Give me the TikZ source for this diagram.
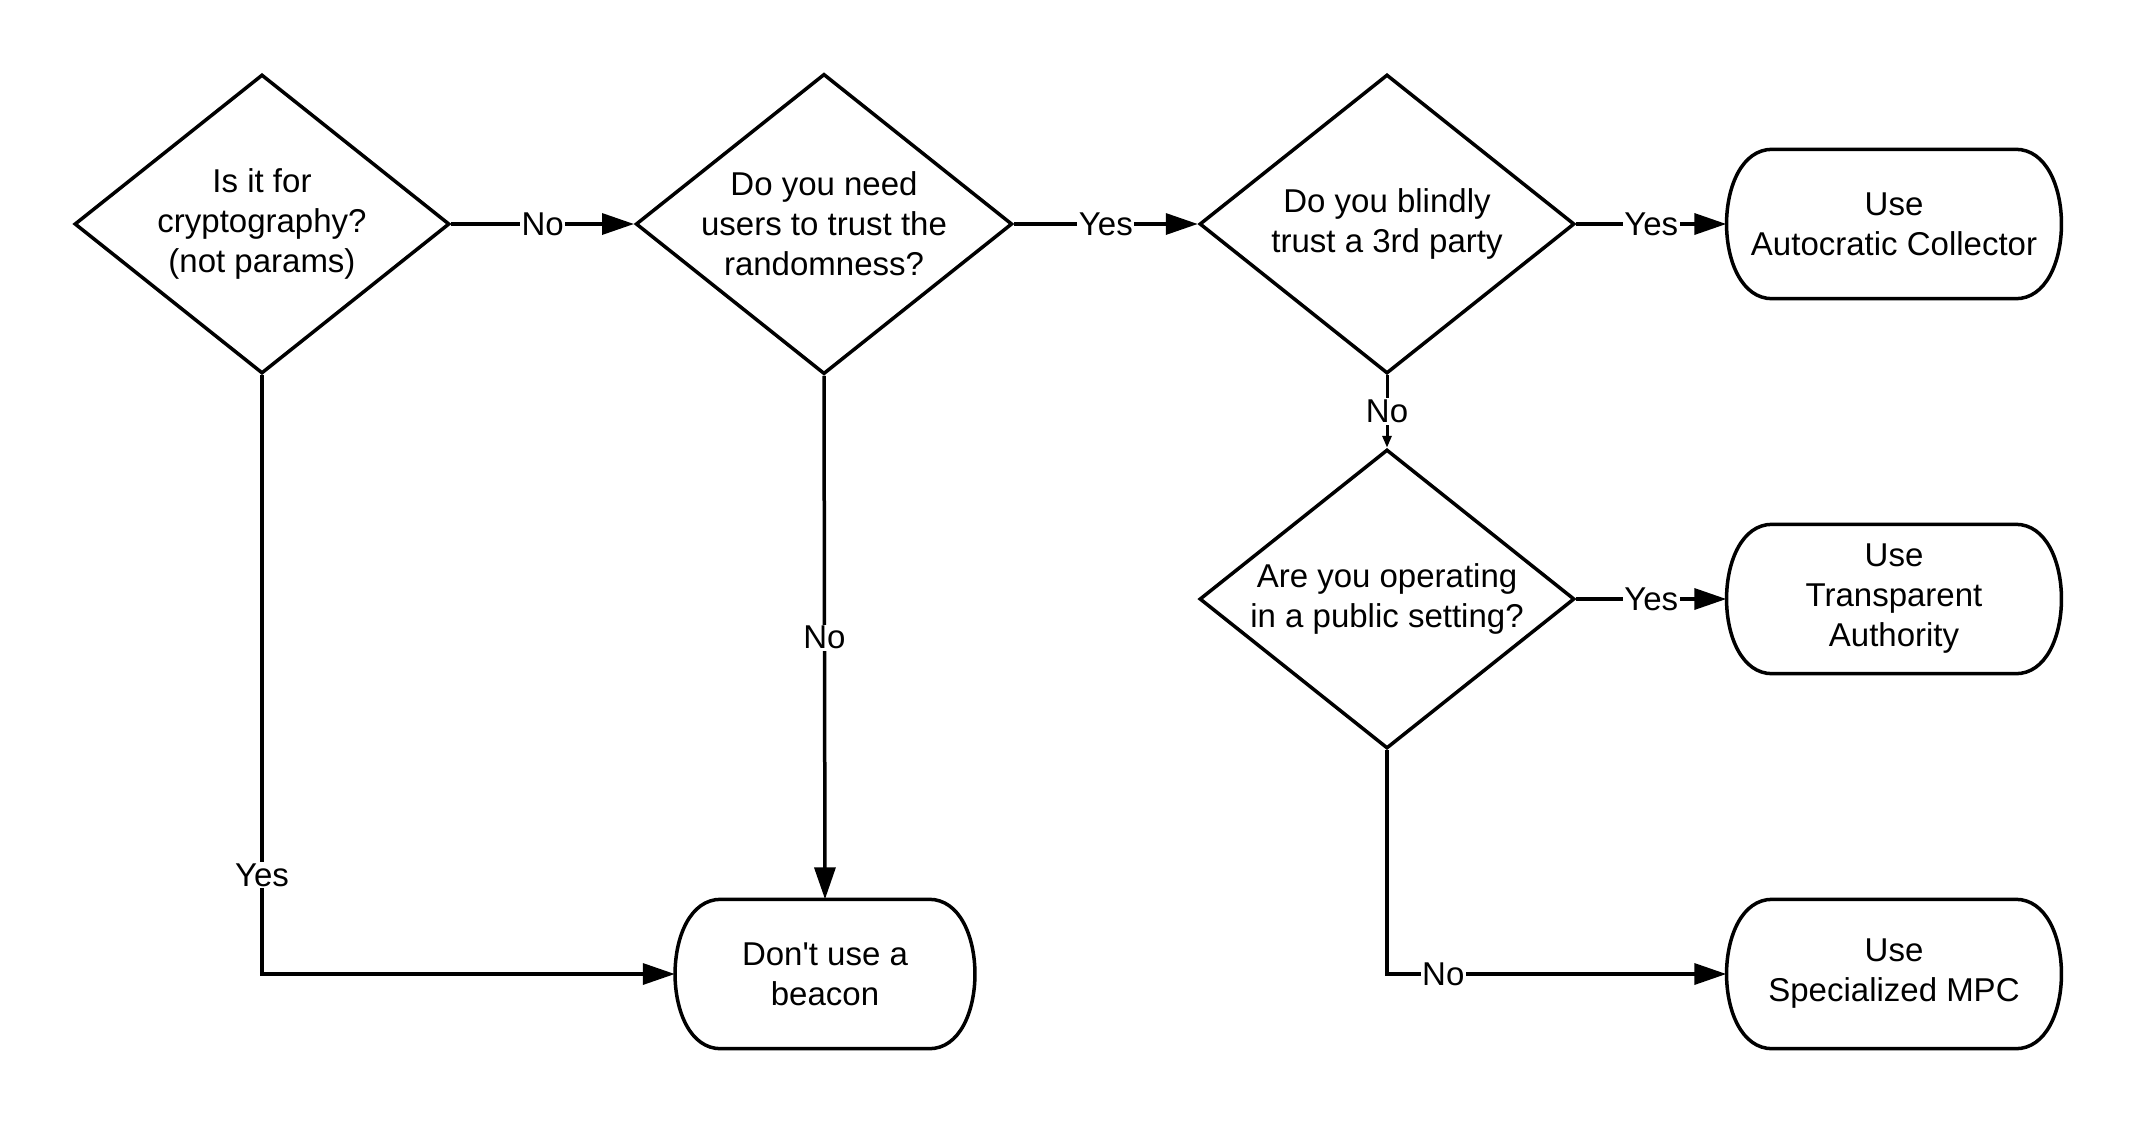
\documentclass[tikz,border=0pt]{standalone}
\usepackage{fontspec}
\setmainfont{Liberation Sans}[Ligatures=TeXOff]
\usetikzlibrary{shapes.geometric,arrows.meta}
\tikzset{
  txt/.style={font=\fontsize{33}{40}\selectfont, align=center},
  decision/.style={txt, diamond, draw, line width=3.5pt, shape aspect=1.254,
     minimum width=375pt, minimum height=299pt, inner sep=0pt},
  term/.style={txt, minimum width=335pt, minimum height=149pt, inner sep=0pt},
  termline/.style={line width=3.5pt},
  conn/.style={line width=3.5pt, -{Triangle[length=32pt,width=21pt]}},
  smallconn/.style={line width=3pt, -{Triangle[length=12pt,width=9pt]}},
  lab/.style={font=\fontsize{33}{40}\selectfont, fill=white, inner sep=1.5pt}
}
\newcommand{\termoutline}[1]{%
  \draw[termline] ([xshift=46pt]#1.north west) -- ([xshift=-46pt]#1.north east)
    .. controls ([xshift=15pt]#1.north east) and ([xshift=15pt]#1.south east) .. ([xshift=-46pt]#1.south east)
    -- ([xshift=46pt]#1.south west)
    .. controls ([xshift=-15pt]#1.south west) and ([xshift=-15pt]#1.north west) .. cycle;}
\begin{document}
\begin{tikzpicture}[x=1pt, y=-1pt]
\useasboundingbox[fill=white] (0,0) rectangle (2138,1125);
\node[decision] (d1) at (262,224) {Is it for\\cryptography?\\(not params)};
\node[decision] (d2) at (824,224) {Do you need\\users to trust the\\randomness?};
\node[decision] (d3) at (1387,224) {Do you blindly\\trust a 3rd party};
\node[decision] (d4) at (1387,599) {Are you operating\\in a public setting?};
\node[term] (t1) at (1894,224) {Use\\Autocratic Collector};
\node[term] (t2) at (1894,599) {Use\\Transparent\\Authority};
\node[term] (t3) at (1894,974) {Use\\Specialized MPC};
\node[term, minimum width=300pt] (b) at (825,974) {Don't use a\\beacon};
\termoutline{t1}
\termoutline{t2}
\termoutline{t3}
\termoutline{b}
\draw[conn] (d1.east) -- node[lab] {No} (d2.west);
\draw[conn] (d2.east) -- node[lab] {Yes} (d3.west);
\draw[conn] (d3.east) -- node[lab] {Yes} (t1.west);
\draw[smallconn] (d3.south) -- node[lab] {No} (d4.north);
\draw[conn] (d4.east) -- node[lab] {Yes} (t2.west);
\draw[conn] (d2.south) -- node[lab] {No} (b.north);
\draw[conn] (d1.south) |- node[lab, pos=0.4175] {Yes} (b.west);
\draw[conn] (d4.south) |- node[lab, pos=0.583] {No} (t3.west);
\end{tikzpicture}
\end{document}
